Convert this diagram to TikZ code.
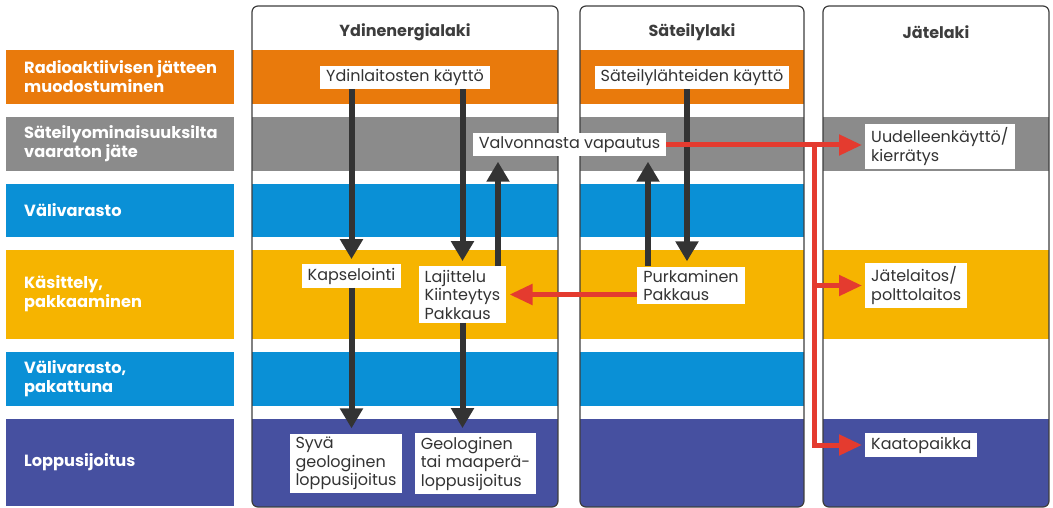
\documentclass[tikz,border=0pt]{standalone}
\usepackage{fontspec}
\setmainfont{Poppins}
\usetikzlibrary{arrows.meta,calc}
\definecolor{bandorange}{HTML}{E97A0C}
\definecolor{bandgray}{HTML}{8B8B8B}
\definecolor{bandblue}{HTML}{0A90D6}
\definecolor{bandyellow}{HTML}{F6B400}
\definecolor{bandpurple}{HTML}{4650A0}
\definecolor{arrowdark}{HTML}{333333}
\definecolor{arrowred}{HTML}{E43B2F}
\definecolor{framegray}{HTML}{3D3D3D}
\tikzset{
  rowlabel/.style={anchor=west, inner sep=0pt, align=left, text=white, font=\fontsize{16.2}{19}\selectfont\bfseries},
  lawtitle/.style={font=\fontsize{16}{18}\selectfont\bfseries, text=framegray},
  item/.style={fill=white, inner xsep=6pt, inner ysep=3.5pt, align=left, text=black!80, font=\fontsize{16}{18.5}\selectfont},
  darkarrow/.style={draw=arrowdark, line width=6pt, -{Triangle[width=22pt,length=20pt]}, shorten >=5pt},
  redarrow/.style={draw=arrowred, line width=5pt, -{Triangle[width=20pt,length=23pt]}, shorten >=3pt},
  lawbox/.style={draw=framegray, line width=1.2pt, rounded corners=6pt}
}

\begin{document}
\begin{tikzpicture}[x=1pt, y=-1pt]
		%%%%% START %%%%%
		\useasboundingbox (0,0) rectangle (1053,508);
		
		% row labels on the left
		\fill[bandorange] (6,50) rectangle (234,104);
		\fill[bandgray] (6,117) rectangle (234,171);
		\fill[bandblue] (6,184) rectangle (234,237);
		\fill[bandyellow] (6,250) rectangle (234,339);
		\fill[bandblue] (6,352) rectangle (234,406);
		\fill[bandpurple] (6,419) rectangle (234,506);
		
		\node[rowlabel] (lab1) at (24,77) {Radioaktiivisen jätteen\\muodostuminen};
		\node[rowlabel] (lab2) at (24,144) {Säteilyominaisuuksilta\\vaaraton jäte};
		\node[rowlabel] (lab3) at (24,210.5) {Välivarasto};
		\node[rowlabel] (lab4) at (24,294) {Käsittely,\\pakkaaminen};
		\node[rowlabel] (lab5) at (24,379) {Välivarasto,\\pakattuna};
		\node[rowlabel] (lab6) at (24,462.5) {Loppusijoitus};
		
		% law columns
		\foreach \xl/\xr in {252/558, 580/804} {
			\begin{scope}
				\clip[rounded corners=6pt] (\xl,6) rectangle (\xr,507);
				\fill[bandorange] (\xl,50) rectangle (\xr,104);
				\fill[bandgray] (\xl,117) rectangle (\xr,171);
				\fill[bandblue] (\xl,184) rectangle (\xr,237);
				\fill[bandyellow] (\xl,250) rectangle (\xr,339);
				\fill[bandblue] (\xl,352) rectangle (\xr,406);
				\fill[bandpurple] (\xl,419) rectangle (\xr,507);
			\end{scope}
			\draw[lawbox] (\xl,6) rectangle (\xr,507);
		}
		\begin{scope}
			\clip[rounded corners=6pt] (823,6) rectangle (1049,507);
			\fill[bandgray] (823,117) rectangle (1049,171);
			\fill[bandyellow] (823,250) rectangle (1049,339);
			\fill[bandpurple] (823,419) rectangle (1049,507);
		\end{scope}
		\draw[lawbox] (823,6) rectangle (1049,507);
		
		\node[lawtitle] (ydintitle) at (405,32) {Ydinenergialaki};
		\node[lawtitle] (sattitle) at (692,32) {Säteilylaki};
		\node[lawtitle] (jattitle) at (936,32) {Jätelaki};
		
		% boxes
		\node[item] (ydin) at (405,77.5) {Ydinlaitosten käyttö};
		\node[item] (sat) at (692,77.5) {Säteilylähteiden käyttö};
		\node[item] (valv) at (569.5,145) {Valvonnasta vapautus};
		\node[item, anchor=west] (uud) at (865,146.5) {Uudelleenkäyttö/\\kierrätys};
		\node[item] (kaps) at (351.5,276) {Kapselointi};
		\node[item] (laji) at (462.5,294.5) {Lajittelu\\Kiinteytys\\Pakkaus};
		\node[item] (purk) at (691,285.5) {Purkaminen\\Pakkaus};
		\node[item, anchor=west] (jate) at (865,285.5) {Jätelaitos/\\polttolaitos};
		\node[item] (syva) at (346,463.5) {Syvä\\geologinen\\loppusijoitus};
		\node[item] (geo) at (475.5,463.5) {Geologinen\\tai maaperä-\\loppusijoitus};
		\node[item, anchor=west] (kaat) at (865,445) {Kaatopaikka};
		
		% dark arrows
		\draw[darkarrow] (ydin.south -| kaps.north) -- (kaps.north);
		\draw[darkarrow] (ydin.south -| laji.north) -- (laji.north);
		\draw[darkarrow] ([xshift=35.5pt]laji.north) -- ([xshift=35.5pt]laji.north |- valv.south);
		\draw[darkarrow] (kaps.south) -- (kaps.south |- syva.north);
		\draw[darkarrow] (laji.south) -- (laji.south |- geo.north);
		\draw[darkarrow] ([xshift=-5pt]sat.south) -- ([xshift=-5pt]sat.south |- purk.north);
		\draw[darkarrow] ([xshift=-43pt]purk.north) -- ([xshift=-43pt]purk.north |- valv.south);
		
		% red arrows
		\coordinate (split) at (valv.east -| 814,0);
		\draw[redarrow] (valv.east) -- (valv.east -| uud.west);
		\draw[redarrow] (split) |- (kaat.west);
		\draw[redarrow] (split |- jate.west) -- (jate.west);
		\draw[redarrow] (purk.west |- laji.east) -- (laji.east);
		
		%%%%% END %%%%%
\end{tikzpicture}
\end{document}
